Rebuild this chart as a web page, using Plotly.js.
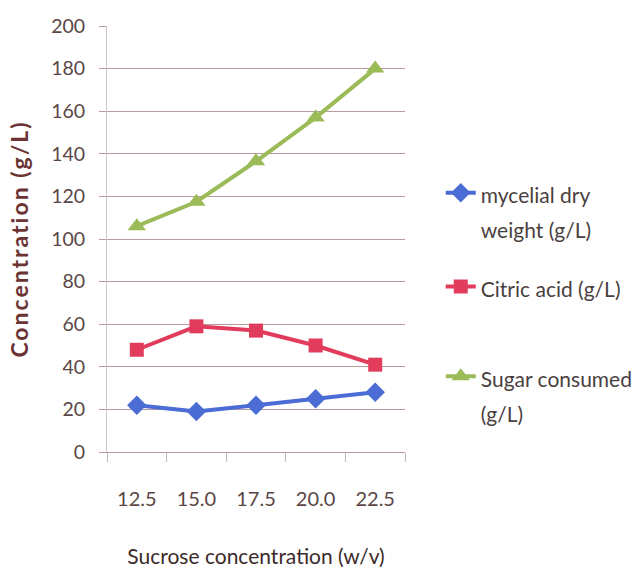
<!DOCTYPE html>
<html>
<head>
<meta charset="utf-8">
<script src="https://cdn.plot.ly/plotly-3.0.1.min.js"></script>
<style>
  html, body { margin: 0; padding: 0; background: #ffffff; }
  #chart { width: 637px; height: 574px; }
  /* widen the bold y-axis title a little */
  #chart .ytitle { letter-spacing: 2px; }
</style>
</head>
<body>
<div id="chart"></div>
<script>
// Sucrose concentration levels (w/v)
const sucrose = ['12.5', '15.0', '17.5', '20.0', '22.5'];

// Measured concentrations (g/L)
const mycelialDryWeight = [22, 19, 22, 25, 28];
const citricAcid = [48, 59, 57, 50, 41];
const sugarConsumed = [106, 117.5, 136.5, 157, 180];

const seriesNames = [
  'mycelial dry<br>weight (g/L)',
  'Citric acid (g/L)',
  'Sugar consumed<br>(g/L)'
];

const FONT = 'Lato, "Open Sans", sans-serif';
const GRID = '#b89a9a';

// Legend text is drawn at 21px while the line spacing follows the larger legend font
function legendLabel(s) {
  return s.split('<br>').map(p => '<span style="font-size:21px">' + p + '</span>').join('<br>');
}

const traces = [
  {
    x: sucrose, y: mycelialDryWeight, name: legendLabel(seriesNames[0]),
    type: 'scatter', mode: 'lines+markers', legend: 'legend',
    line: { color: '#4a6cd4', width: 4 },
    marker: { symbol: 'diamond', size: 15, color: '#4a6cd4' }
  },
  {
    x: sucrose, y: citricAcid, name: legendLabel(seriesNames[1]),
    type: 'scatter', mode: 'lines+markers', legend: 'legend2',
    line: { color: '#e23c5c', width: 4 },
    marker: { symbol: 'square', size: 14, color: '#e23c5c' }
  },
  {
    x: sucrose, y: sugarConsumed, name: legendLabel(seriesNames[2]),
    type: 'scatter', mode: 'lines+markers', legend: 'legend3',
    line: { color: '#9bbb59', width: 4 },
    marker: { symbol: 'triangle-up', size: 16, color: '#9bbb59' }
  }
];

const legendBase = {
  xanchor: 'left', yanchor: 'top', valign: 'top',
  bgcolor: 'rgba(0,0,0,0)', borderwidth: 0,
  font: { family: FONT, size: 27, color: '#4a3f3f' }
};

const layout = {
  width: 637, height: 574,
  margin: { l: 107, r: 232, t: 26, b: 122, autoexpand: false },
  paper_bgcolor: '#ffffff', plot_bgcolor: '#ffffff',
  font: { family: FONT, color: '#5a4646' },
  showlegend: true,
  legend: Object.assign({}, legendBase, { x: 1.12, y: 0.665 }),
  legend2: Object.assign({}, legendBase, { x: 1.12, y: 0.445 }),
  legend3: Object.assign({}, legendBase, { x: 1.12, y: 0.234 }),
  xaxis: {
    type: 'category',
    categoryorder: 'array', categoryarray: sucrose,
    range: [-0.5, 4.5],
    showgrid: false,
    showline: true, linecolor: GRID, linewidth: 1,
    ticks: 'outside', tickson: 'boundaries', ticklen: 9, tickcolor: '#c4b4b4',
    ticklabelstandoff: 29,
    tickfont: { family: FONT, size: 20, color: '#5a4646' },
    title: { text: 'Sucrose concentration (w/v)', standoff: 40,
             font: { family: FONT, size: 21, color: '#3d2a2a' } },
    zeroline: false
  },
  yaxis: {
    range: [0, 200], dtick: 20,
    showgrid: true, gridcolor: GRID, gridwidth: 1,
    showline: true, linecolor: '#d0c4c4', linewidth: 1,
    ticks: 'outside', ticklen: 7, tickcolor: GRID,
    ticklabelstandoff: 10,
    tickfont: { family: FONT, size: 19.5, color: '#5a4646' },
    title: { text: '<b>Concentration (g/L)</b>', standoff: 16,
             font: { family: FONT, size: 23, color: '#6b3333' } },
    zeroline: false
  }
};

Plotly.newPlot('chart', traces, layout, { staticPlot: true, displayModeBar: false });
</script>
</body>
</html>
